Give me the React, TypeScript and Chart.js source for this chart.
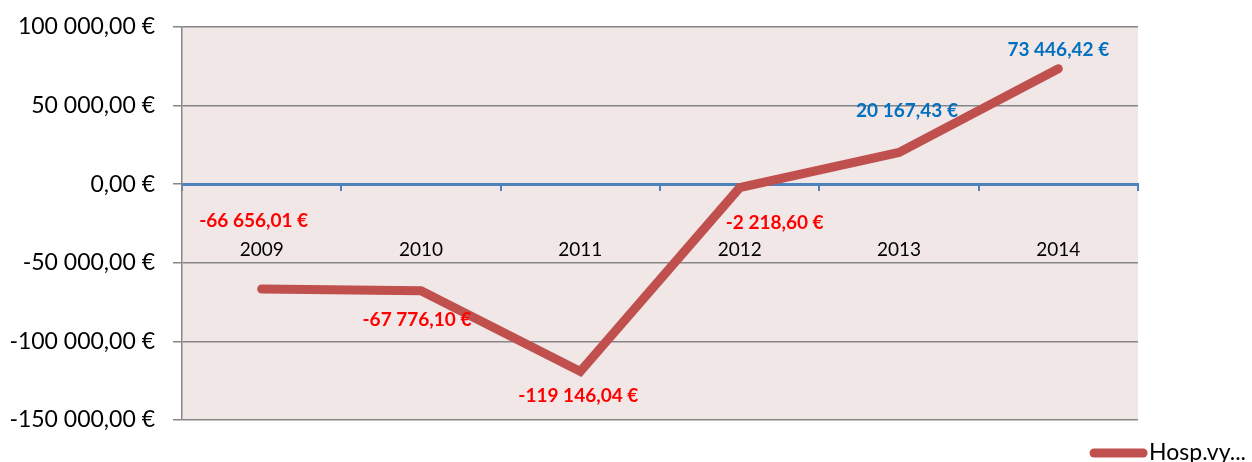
import React, { useEffect, useRef } from "react";
import { Chart, registerables } from "chart.js";

Chart.register(...registerables);

const categories = ["2009", "2010", "2011", "2012", "2013", "2014"];
const seriesName = "Hosp.vy...";
const seriesValues = [-66656.01, -67776.1, -119146.04, -2218.6, 20167.43, 73446.42];
const yTickMin = -150000;
const yTickMax = 100000;
const yTickStep = 50000;

// label offsets relative to each point (dx, dy), as placed in the reference
const labelOffsets: [number, number][] = [
  [-8, -68],
  [-4, 29],
  [-2, 24],
  [35, 35],
  [8, -42],
  [0, -19],
];

const FONT = "Lato";
const LINE_COLOR = "#C0504D";

function formatEuro(v: number): string {
  const neg = v < 0;
  const abs = Math.abs(v);
  const [intPart, dec] = abs.toFixed(2).split(".");
  const grouped = intPart.replace(/\B(?=(\d{3})+(?!\d))/g, " ");
  return (neg ? "-" : "") + grouped + "," + dec + " €";
}

const plotBg = {
  id: "plotBg",
  beforeDraw(chart: any) {
    const { ctx, chartArea } = chart;
    ctx.save();
    ctx.fillStyle = "#F2E7E7";
    ctx.fillRect(chartArea.left, chartArea.top, chartArea.right - chartArea.left, chartArea.bottom - chartArea.top);
    ctx.restore();
  },
};

const dataLabels = {
  id: "dataLabels",
  afterDatasetsDraw(chart: any) {
    const { ctx } = chart;
    const meta = chart.getDatasetMeta(0);
    const vals = chart.data.datasets[0].data as number[];
    ctx.save();
    ctx.font = `bold 19px ${FONT}`;
    ctx.textAlign = "center";
    ctx.textBaseline = "middle";
    meta.data.forEach((pt: any, i: number) => {
      const v = vals[i];
      const [dx, dy] = labelOffsets[i];
      ctx.fillStyle = v < 0 ? "#FF0000" : "#0070C0";
      ctx.fillText(formatEuro(v), pt.x + dx, pt.y + dy);
    });
    ctx.restore();
  },
};

const bottomLegend = {
  id: "bottomLegend",
  afterDraw(chart: any) {
    const { ctx, chartArea } = chart;
    const ds = chart.data.datasets[0];
    ctx.save();
    ctx.font = `23px ${FONT}`;
    const text = ds.label as string;
    const tw = ctx.measureText(text).width;
    const textX = chart.width - 6 - tw;
    const y = chartArea.bottom + 33;
    ctx.strokeStyle = ds.borderColor;
    ctx.lineWidth = 9;
    ctx.lineCap = "round";
    ctx.beginPath();
    ctx.moveTo(textX - 55, y);
    ctx.lineTo(textX - 6, y);
    ctx.stroke();
    ctx.fillStyle = "#000";
    ctx.textAlign = "left";
    ctx.textBaseline = "middle";
    ctx.fillText(text, textX, y);
    ctx.restore();
  },
};

export default function App() {
  const ref = useRef<HTMLCanvasElement | null>(null);
  useEffect(() => {
    if (!ref.current) return;
    Chart.defaults.font.family = FONT;
    const chart = new Chart(ref.current, {
      type: "line",
      data: {
        labels: categories,
        datasets: [
          {
            label: seriesName,
            data: seriesValues,
            borderColor: LINE_COLOR,
            backgroundColor: LINE_COLOR,
            borderWidth: 9,
            borderCapStyle: "round",
            borderJoinStyle: "miter",
            pointRadius: 0,
            tension: 0,
            fill: false,
          },
        ],
      },
      options: {
        animation: false,
        responsive: true,
        maintainAspectRatio: false,
        layout: { padding: { top: 19, left: 0, right: 0, bottom: 42 } },
        plugins: {
          tooltip: { enabled: false },
          legend: { display: false },
        },
        scales: {
          x: {
            type: "category",
            position: { y: 0 } as any,
            offset: true,
            grid: {
              offset: true,
              drawOnChartArea: false,
              drawTicks: true,
              tickLength: 5,
              color: "#4F81BD",
              lineWidth: 2,
            },
            border: { display: true, color: "#4F81BD", width: 3 },
            ticks: { color: "#000", font: { size: 19, family: FONT }, padding: 49, maxRotation: 0 },
          },
          y: {
            type: "linear",
            position: "left",
            min: yTickMin,
            max: yTickMax,
            afterFit(scale: any) {
              scale.width = 174;
              scale.paddingTop = 0;
              scale.paddingBottom = 0;
            },
            ticks: {
              stepSize: yTickStep,
              color: "#000",
              font: { size: 23, family: FONT },
              padding: 18,
              callback: (v: any) => formatEuro(Number(v)),
            },
            grid: {
              color: (c: any) => (c.tick && c.tick.value === 0 ? "rgba(0,0,0,0)" : "#868686"),
              tickColor: "#868686",
              tickLength: 9,
              lineWidth: 1.5,
            },
            border: { display: true, color: "#868686", width: 1.5 },
          },
          y2: {
            type: "linear",
            position: "right",
            display: true,
            grid: { display: false },
            border: { display: false },
            ticks: { display: false },
            afterFit(scale: any) {
              scale.width = 114;
              scale.paddingTop = 0;
              scale.paddingBottom = 0;
            },
          },
        },
      },
      plugins: [plotBg, dataLabels, bottomLegend],
    });
    return () => chart.destroy();
  }, []);
  return (
    <div style={{ position: "absolute", left: 8, top: 8, width: 1244, height: 454 }}>
      <canvas ref={ref} />
    </div>
  );
}
